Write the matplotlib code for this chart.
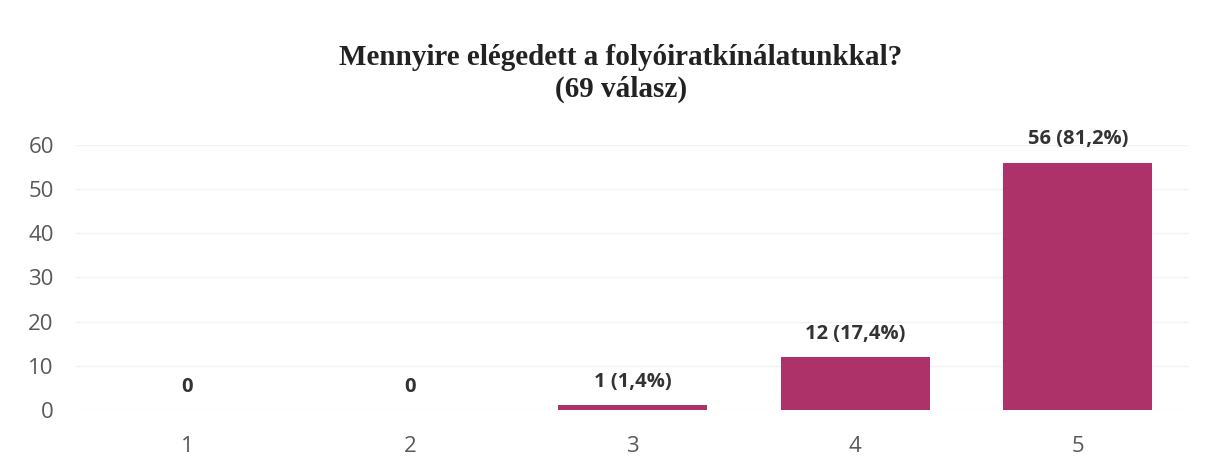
import numpy as np
import matplotlib
matplotlib.use('Agg')
import matplotlib.pyplot as plt

# adatok
categories = ['1', '2', '3', '4', '5']
counts = [0, 0, 1, 12, 56]
percent_labels = ['0', '0', '1 (1,4%)', '12 (17,4%)', '56 (81,2%)']

bar_color = '#AC3269'

fig = plt.figure(figsize=(12.06, 4.59), dpi=100)
ax = fig.add_axes([0.063, 0.107, 0.923, 0.577])

x = np.arange(len(categories))
ax.bar(x, counts, width=0.67, color=bar_color, zorder=2)

for xi, c, lab in zip(x, counts, percent_labels):
    ax.text(xi, c + 3.0, lab, ha='center', va='bottom', fontsize=14.5,
            fontweight='bold', color='#333333', family='Open Sans')

ax.set_xlim(-0.5, len(categories) - 0.5)
ax.set_ylim(0, 60)
ax.set_yticks(range(0, 61, 10))
ax.set_xticks(x)
ax.set_xticklabels(categories)
ax.grid(axis='y', color='#f2f2f2', linewidth=1, zorder=0)
ax.tick_params(length=0, labelsize=16, colors='#595959')
for lbl in ax.get_xticklabels() + ax.get_yticklabels():
    lbl.set_family('Open Sans')
ax.tick_params(axis='x', pad=19)
ax.tick_params(axis='y', pad=16)
for s in ax.spines.values():
    s.set_visible(False)

fig.suptitle('Mennyire elégedett a folyóiratkínálatunkkal?\n(69 válasz)',
             x=0.515, y=0.905, fontsize=21, family='Liberation Serif',
             fontweight='bold', color='#222222', linespacing=1.25)

plt.savefig('out.png')
